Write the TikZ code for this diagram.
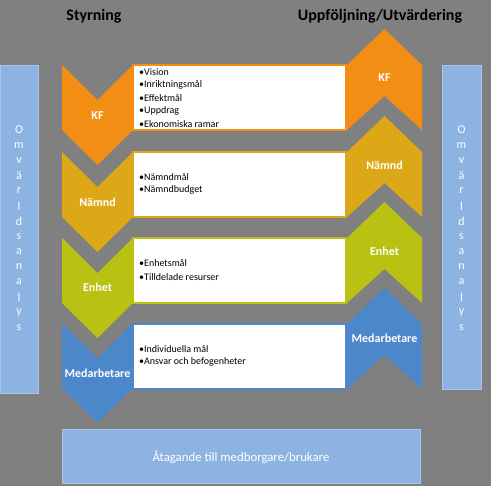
\documentclass[tikz,border=0pt]{standalone}
\usepackage{fontspec}
\setmainfont{Carlito}
\definecolor{bg}{HTML}{808080}
\definecolor{cKF}{HTML}{F38E14}
\definecolor{cNa}{HTML}{DDA818}
\definecolor{cEn}{HTML}{B9C213}
\definecolor{cMe}{HTML}{4C87C9}
\definecolor{sidebar}{HTML}{8DB3E2}
\definecolor{sideedge}{HTML}{A9C6EA}
\tikzset{
  lbl/.style={text=white,font=\bfseries\fontsize{12}{14}\selectfont,inner sep=0pt},
  itm/.style={anchor=west,text=black,font=\fontsize{10}{12}\selectfont,inner sep=0pt},
  ttl/.style={text=black,font=\bfseries\fontsize{16}{18}\selectfont,inner sep=0pt},
  sidetxt/.style={text=white,font=\fontsize{12}{14}\selectfont,inner sep=0pt},
  tbox/.style={fill=white,line width=1.4pt},
}
\newcommand{\downchev}[2]{%
  \fill[#2] (62,#1) -- (97.5,#1+35) -- (133,#1) -- (133,#1+65) -- (97.5,#1+100) -- (62,#1+65) -- cycle;}
\newcommand{\upchev}[2]{%
  \fill[#2] (347,#1) -- (384.5,#1-36) -- (422,#1) -- (422,#1+65) -- (384.5,#1+31) -- (347,#1+65) -- cycle;}
\begin{document}
\begin{tikzpicture}[x=1pt,y=-1pt]
\fill[bg] (0,0) rectangle (491,486);
\useasboundingbox (0,0) rectangle (491,486);
% titles
\node[ttl] (t1) at (94,16) {Styrning};
\node[ttl] (t2) at (380,16) {Uppföljning/Utvärdering};
% side bars
\draw[fill=sidebar,draw=sideedge,line width=0.8pt] (0,65) rectangle (38,393);
\draw[fill=sidebar,draw=sideedge,line width=0.8pt] (442,65) rectangle (481,389);
\foreach \c [count=\i] in {O,m,v,ä,r,l,d,s,a,n,a,l,y,s}{
  \node[sidetxt] (sl\i) at (19,{130+15.2*(\i-1)}) {\c};
  \node[sidetxt] (sr\i) at (461.5,{130+15.2*(\i-1)}) {\c};
}
% chevrons
\downchev{65}{cKF}
\downchev{152}{cNa}
\downchev{238}{cEn}
\downchev{323}{cMe}
\upchev{65}{cKF}
\upchev{152}{cNa}
\upchev{238}{cEn}
\upchev{324}{cMe}
% text boxes
\draw[tbox,draw=cKF] (133,65) rectangle (346,130);
\draw[tbox,draw=cNa] (133,152) rectangle (346,217);
\draw[tbox,draw=cEn] (133,238) rectangle (346,303);
\draw[tbox,draw=cMe] (133,324) rectangle (346,389);
% chevron labels
\node[lbl] (kfl) at (97.5,116) {KF};
\node[lbl] (nal) at (97.5,202) {Nämnd};
\node[lbl] (enl) at (97.5,287) {Enhet};
\node[lbl] (mel) at (97.5,373) {Medarbetare};
\node[lbl] (kfr) at (384.5,78) {KF};
\node[lbl] (nar) at (384.5,165) {Nämnd};
\node[lbl] (enr) at (384.5,251) {Enhet};
\node[lbl] (mer) at (384.5,338) {Medarbetare};
% items
\node[itm] (i1) at (139,72) {•Vision};
\node[itm] (i2) at (139,85) {•Inriktningsmål};
\node[itm] (i3) at (139,98) {•Effektmål};
\node[itm] (i4) at (139,111) {•Uppdrag};
\node[itm] (i5) at (139,124) {•Ekonomiska ramar};
\node[itm] (i6) at (139,177) {•Nämndmål};
\node[itm] (i7) at (139,190) {•Nämndbudget};
\node[itm] (i8) at (139,263) {•Enhetsmål};
\node[itm] (i9) at (139,277) {•Tilldelade resurser};
\node[itm] (i10) at (139,349) {•Individuella mål};
\node[itm] (i11) at (139,362) {•Ansvar och befogenheter};
% bottom box
\draw[fill=sidebar,draw=sideedge,line width=1pt] (62,430) rectangle (420,484);
\node[text=white,font=\fontsize{12.8}{14}\selectfont,inner sep=0pt] (bot) at (241,457) {Åtagande till medborgare/brukare};
\end{tikzpicture}
\end{document}
